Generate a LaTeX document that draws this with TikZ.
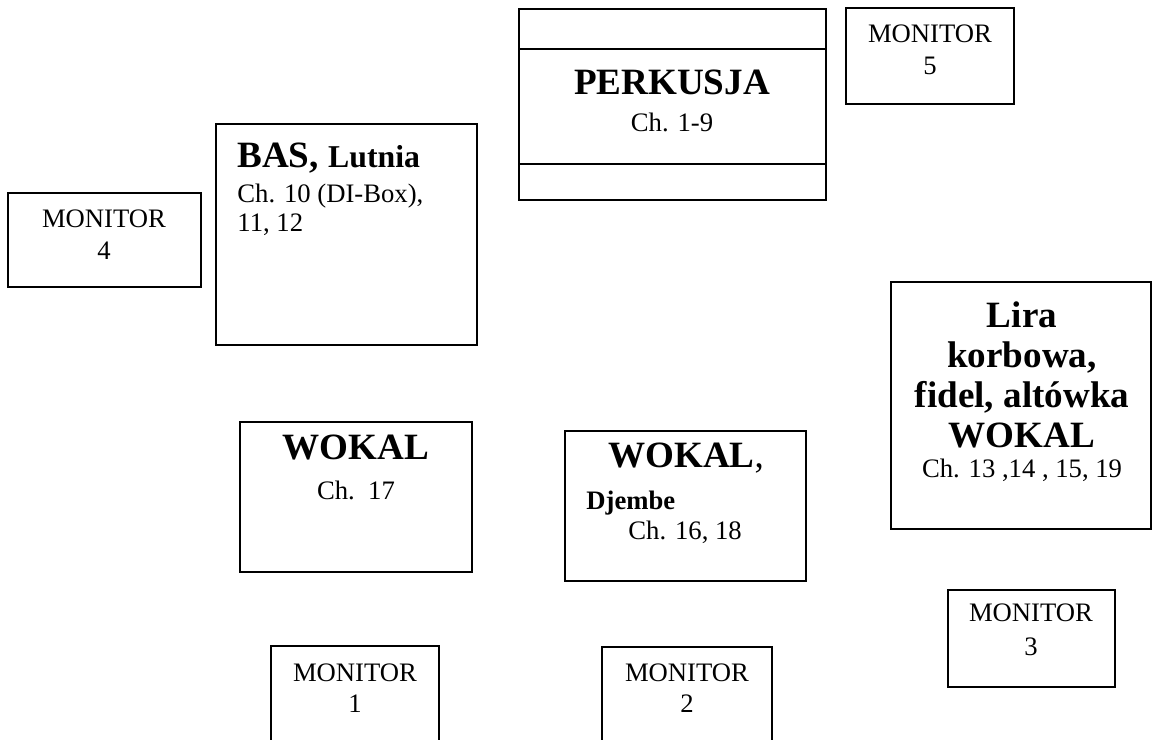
\documentclass[tikz,border=0pt]{standalone}
\usepackage{fontspec}
\setmainfont{Liberation Serif}
\begin{document}
\begin{tikzpicture}[x=0.45pt,y=-0.45pt,
  box/.style={draw=black, line width=0.7pt},
  thin/.style={draw=black, line width=0.5pt},
  big/.style={anchor=base, inner sep=0pt, font=\fontsize{16.7}{20}\selectfont\bfseries},
  txt/.style={anchor=base, inner sep=0pt, font=\fontsize{12}{14}\selectfont}]
\clip (0,0) rectangle (1152,740);
% stage boxes
\draw[box, line width=0.9pt] (519,9) rectangle (826,200);
\draw[thin] (519,49) -- (826,49);
\draw[thin] (519,164) -- (826,164);
\node[big] (perk) at (672,95) {PERKUSJA};
\node[txt] (perkch) at (672,132) {Ch. 1-9};
\draw[box] (846,8) rectangle (1014,104);
\node[txt] (mon5) at (930,43) {MONITOR};
\node[txt] (mon5n) at (930,75) {5};
\draw[box] (216,124) rectangle (477,345);
\node[big, anchor=base west] (bas) at (237,168) {BAS, {\fontsize{14.3}{17}\selectfont Lutnia}};
\node[txt, anchor=base west] (basch) at (237,203) {Ch. 10 (DI-Box),};
\node[txt, anchor=base west] (basch2) at (237,232) {11, 12};
\draw[box] (8,193) rectangle (201,287);
\node[txt] (mon4) at (104,228) {MONITOR};
\node[txt] (mon4n) at (104,260) {4};
\draw[box] (891,282) rectangle (1151,529);
\node[big] (lira1) at (1022,328) {Lira};
\node[big] (lira2) at (1022,368) {korbowa,};
\node[big] (lira3) at (1022,408) {fidel, altówka};
\node[big] (lira4) at (1022,448) {WOKAL};
\node[txt] (liach) at (1022,478) {Ch. 13 ,14 , 15, 19};
\draw[box] (240,422) rectangle (472,572);
\node[big] (wok1) at (356,460) {WOKAL};
\node[txt] (wok1ch) at (356,500) {Ch.\ \ 17};
\draw[box] (565,431) rectangle (806,581);
\node[big] (wok2) at (686,468) {WOKAL{\mdseries,}};
\node[txt, anchor=base west, font=\fontsize{12}{14}\selectfont\bfseries] (djembe) at (586,510) {Djembe};
\node[txt, anchor=base west] (wok2ch) at (628,540) {Ch. 16, 18};
\draw[box] (948,590) rectangle (1115,687);
\node[txt] (mon3) at (1031,622) {MONITOR};
\node[txt] (mon3n) at (1031,655) {3};
\draw[box] (271,646) rectangle (439,760);
\node[txt] (mon1) at (355,682) {MONITOR};
\node[txt] (mon1n) at (355,712) {1};
\draw[box] (602,647) rectangle (772,760);
\node[txt] (mon2) at (687,682) {MONITOR};
\node[txt] (mon2n) at (687,713) {2};
\end{tikzpicture}
\end{document}
